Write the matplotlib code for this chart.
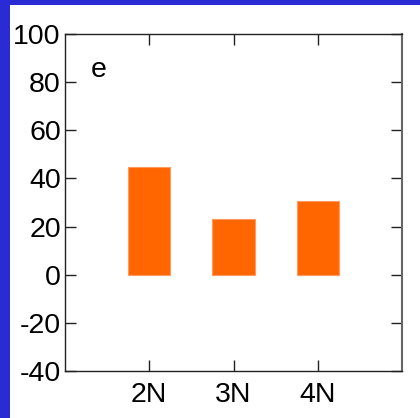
import matplotlib
matplotlib.use("Agg")
import matplotlib.pyplot as plt
from matplotlib.patches import Rectangle

categories = ["2N", "3N", "4N"]
positions = [2, 3, 4]
values = [44.6, 23.3, 30.8]
yticks = [-40, -20, 0, 20, 40, 60, 80, 100]
panel_label = "e"

plt.rcParams['font.family'] = ['Liberation Sans', 'DejaVu Sans']
plt.rcParams['axes.unicode_minus'] = False

fig = plt.figure(figsize=(4.2, 4.18), dpi=100)
fig.patch.set_facecolor('#2b2bd6')
fig.patches.append(Rectangle((10/420, 0), 1, 1 - 5/418, transform=fig.transFigure,
                             facecolor='white', edgecolor='none', zorder=-10))

ax = fig.add_axes([65/420, (418-371)/418, (402-65)/420, (371-34)/418])
ax.set_zorder(5)
ax.bar(positions, values, width=0.5, color='#ff6600', edgecolor='#ff9a60', linewidth=0.8)
ax.set_xlim(1, 5)
ax.set_ylim(-40, 100)
ax.set_xticks(positions)
ax.set_xticklabels(categories)
ax.set_yticks(yticks)
ax.tick_params(direction='in', length=8, width=1, labelsize=20.5, top=True, right=True,
               colors='#222222', labelcolor='black')
ax.tick_params(axis='y', pad=3)
ax.tick_params(axis='x', pad=8)
for s in ax.spines.values():
    s.set_linewidth(1.0)
    s.set_color('#222222')
ax.spines['right'].set_color('#666666')
ax.spines['right'].set_linewidth(1.5)
ax.text(1.3, 85, panel_label, fontsize=20.5, ha='left', va='center')

fig.savefig('out.png', dpi=100)
